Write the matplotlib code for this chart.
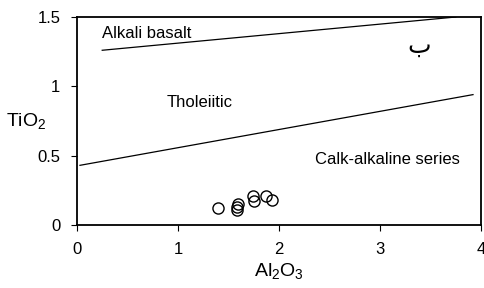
import matplotlib
matplotlib.use("Agg")
import matplotlib.pyplot as plt

plt.rcParams['font.family'] = ['Liberation Sans', 'DejaVu Sans']
plt.rcParams['mathtext.default'] = 'regular'

# sample points
al2o3 = [1.40, 1.58, 1.58, 1.59, 1.74, 1.75, 1.87, 1.93]
tio2 = [0.125, 0.11, 0.13, 0.15, 0.21, 0.17, 0.21, 0.18]

# boundary lines
alk_x = [0.25, 3.75]
alk_y = [1.26, 1.50]
th_x = [0.03, 3.92]
th_y = [0.43, 0.94]

fig = plt.figure(figsize=(4.84, 2.88), dpi=100)
ax = fig.add_axes([0.159, 0.219, 0.835, 0.722])

ax.plot(alk_x, alk_y, color="k", linewidth=0.9)
ax.plot(th_x, th_y, color="k", linewidth=0.9)
ax.plot(al2o3, tio2, linestyle="none", marker="o", markersize=8,
        markerfacecolor="none", markeredgecolor="k", markeredgewidth=1.0)

ax.text(0.25, 1.345, "Alkali basalt", fontsize=12, va="baseline")
ax.text(0.89, 0.85, "Tholeiitic", fontsize=12, va="baseline")
ax.text(2.36, 0.44, "Calk-alkaline series", fontsize=12, va="baseline")
ax.text(3.27, 1.24, "ب", fontsize=18, family=['DejaVu Sans'], va="baseline")

ax.set_xlim(0, 4)
ax.set_ylim(0, 1.5)
ax.set_xticks([0, 1, 2, 3, 4])
ax.set_xticklabels(["0", "1", "2", "3", "4"])
ax.set_yticks([0, 0.5, 1, 1.5])
ax.set_yticklabels(["0", "0.5", "1", "1.5"])
ax.tick_params(direction="out", length=4, width=0.8, labelsize=12, pad=8)

for s in ax.spines.values():
    s.set_linewidth(1.3)

ax.set_xlabel("Al$_2$O$_3$", fontsize=14, labelpad=3)
ax.set_ylabel("TiO$_2$", fontsize=14, rotation=0, labelpad=8, va="center")

fig.savefig("out.png", dpi=100)
